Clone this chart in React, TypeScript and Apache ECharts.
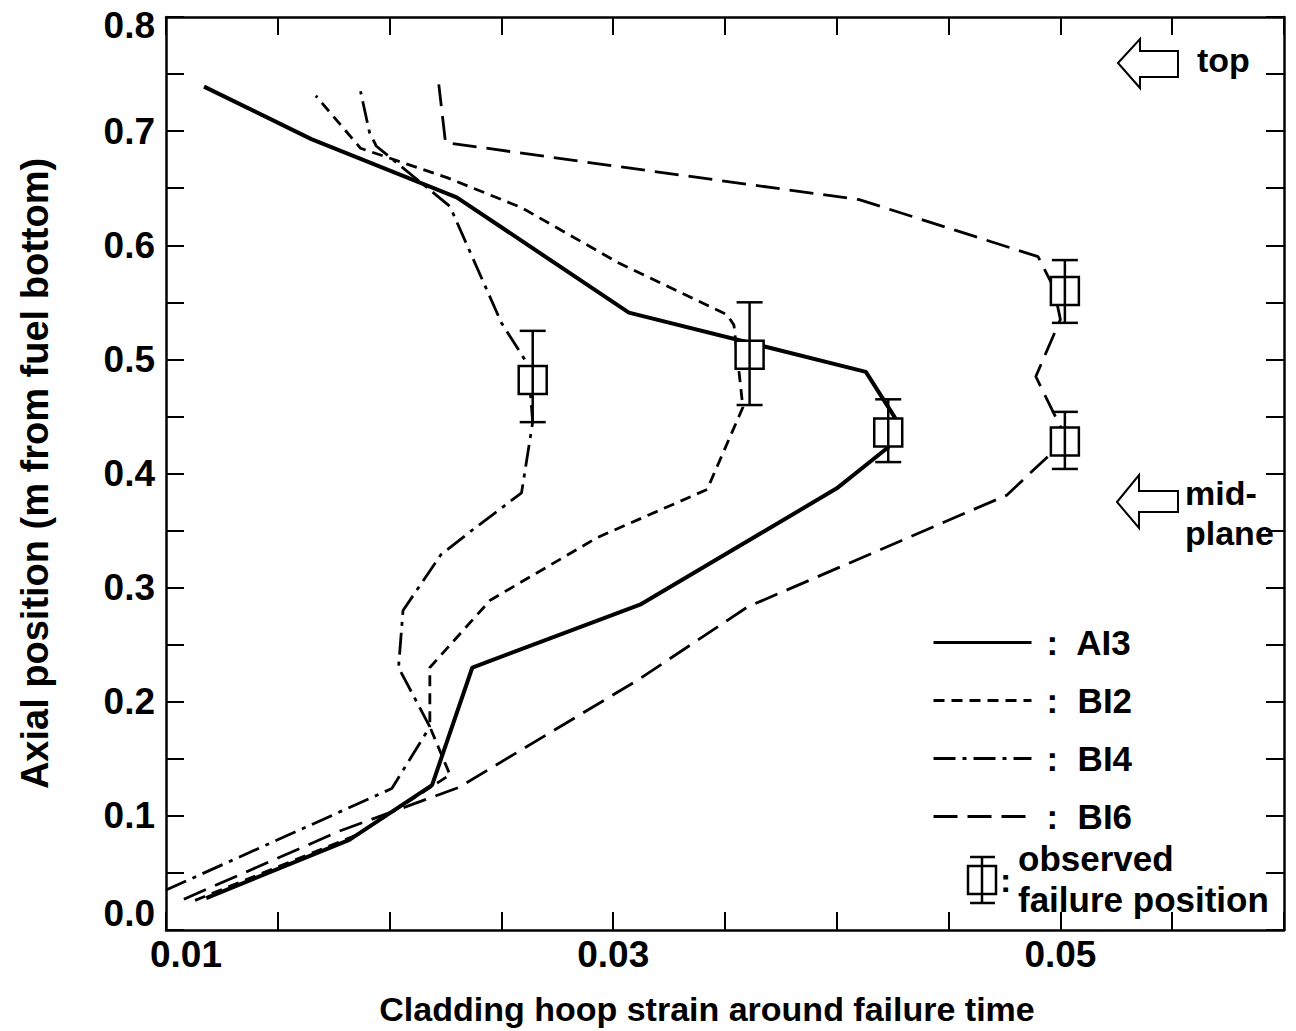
import React, { useEffect, useRef } from "react";
import * as echarts from "echarts";

// ---- data ----
const xTickLabels = ["0.01", "0.03", "0.05"];
const yTickLabels = ["0.0", "0.1", "0.2", "0.3", "0.4", "0.5", "0.6", "0.7", "0.8"];

const ai3Strain = [0.0118, 0.0182, 0.0219, 0.0237, 0.0312, 0.04, 0.0423, 0.0426, 0.0413, 0.0307, 0.023, 0.0165, 0.0117];
const ai3Position = [0.028, 0.079, 0.127, 0.23, 0.285, 0.387, 0.423, 0.449, 0.489, 0.541, 0.642, 0.693, 0.739];

const bi2Strain = [0.0113, 0.0185, 0.0227, 0.0218, 0.0218, 0.0245, 0.0293, 0.0342, 0.0358, 0.0354, 0.0351, 0.0302, 0.0259, 0.0226, 0.0187, 0.0167];
const bi2Position = [0.026, 0.083, 0.136, 0.178, 0.23, 0.289, 0.344, 0.386, 0.458, 0.53, 0.539, 0.585, 0.633, 0.659, 0.685, 0.731];

const bi4Strain = [0.01, 0.0201, 0.0218, 0.0204, 0.0206, 0.0223, 0.0238, 0.0259, 0.0264, 0.0262, 0.025, 0.0227, 0.0194, 0.0191, 0.0187];
const bi4Position = [0.035, 0.124, 0.178, 0.23, 0.28, 0.329, 0.352, 0.383, 0.445, 0.495, 0.532, 0.634, 0.687, 0.699, 0.735];

const bi6Strain = [0.0108, 0.0178, 0.0231, 0.0311, 0.036, 0.0476, 0.0495, 0.05, 0.0489, 0.05, 0.0497, 0.049, 0.041, 0.0302, 0.0225, 0.0222];
const bi6Position = [0.027, 0.087, 0.125, 0.219, 0.283, 0.381, 0.416, 0.441, 0.485, 0.535, 0.563, 0.59, 0.64, 0.669, 0.69, 0.741];

const failStrain = [0.0264, 0.0361, 0.0423, 0.0502, 0.0502];
const failPosition = [0.482, 0.504, 0.436, 0.56, 0.428];
const failLow = [0.445, 0.46, 0.41, 0.532, 0.404];
const failHigh = [0.525, 0.55, 0.465, 0.587, 0.454];

const seriesNames = ["AI3", "BI2", "BI4", "BI6"];

const FONT = "'Liberation Sans', Arial, Helvetica, sans-serif";
const X_MIN = 0.01;
const X_MAX = 0.06;
const X_STEP = 0.005;
const Y_MIN = 0;
const Y_MAX = 0.8;
const Y_STEP = 0.05;

const zip = (xs: number[], ys: number[]) => xs.map((x, i) => [x, ys[i]]);

function buildOption(): any {
  const axisLine = { show: true, onZero: false, lineStyle: { color: "#000", width: 2.5 } };
  const axisTick = { show: true, inside: true, length: 18, lineStyle: { color: "#000", width: 2 } };
  const labelStyle = { color: "#000", fontSize: 37, fontWeight: "bold", fontFamily: FONT };

  const xFormatter = (v: number) => {
    const idx = Math.round((v - X_MIN) / X_STEP);
    if (idx % 4 !== 0) return "";
    const lab = xTickLabels[idx / 4];
    if (lab === undefined) return "";
    return idx === 0 ? `{first|${lab}}` : lab;
  };
  const yFormatter = (v: number) => {
    const idx = Math.round((v - Y_MIN) / Y_STEP);
    if (idx % 2 !== 0) return "";
    const lab = yTickLabels[idx / 2];
    if (lab === undefined) return "";
    if (idx === 0) return `{zero|${lab}}`;
    if (idx / 2 === yTickLabels.length - 1) return `{top|${lab}}`;
    return lab;
  };

  const lineSeries = (name: string, xs: number[], ys: number[], type: any, width: number) => ({
    name,
    type: "line",
    data: zip(xs, ys),
    symbol: "none",
    showSymbol: false,
    silent: true,
    lineStyle: { color: "#000", width, type },
    itemStyle: { color: "#000" },
    z: 2,
  });

  const failData = failStrain.map((x, i) => [x, failPosition[i], failLow[i], failHigh[i]]);

  const textCommon = { fill: "#000", fontFamily: FONT, fontWeight: "bold" };

  return {
    animation: false,
    backgroundColor: "#fff",
    grid: { left: 166, right: 12, top: 17, bottom: 101, containLabel: false },
    xAxis: [
      {
        type: "value",
        min: X_MIN,
        max: X_MAX,
        interval: X_STEP,
        position: "bottom",
        axisLine,
        axisTick,
        splitLine: { show: false },
        axisLabel: {
          ...labelStyle,
          margin: 6,
          formatter: xFormatter,
          rich: { first: { ...labelStyle, padding: [0, 0, 0, 40] } },
        },
        name: "Cladding hoop strain around failure time",
        nameLocation: "middle",
        nameGap: 62,
        nameTextStyle: { color: "#000", fontSize: 34, fontWeight: "bold", fontFamily: FONT, padding: [0, 36, 0, 0] },
      },
      {
        type: "value",
        min: X_MIN,
        max: X_MAX,
        interval: X_STEP,
        position: "top",
        axisLine,
        axisTick,
        splitLine: { show: false },
        axisLabel: { show: false },
      },
    ],
    yAxis: [
      {
        type: "value",
        min: Y_MIN,
        max: Y_MAX,
        interval: Y_STEP,
        position: "left",
        axisLine,
        axisTick,
        splitLine: { show: false },
        axisLabel: {
          ...labelStyle,
          margin: 11,
          formatter: yFormatter,
          rich: {
            zero: { ...labelStyle, padding: [0, 0, 34, 0] },
            top: { ...labelStyle, padding: [16, 0, 0, 0] },
          },
        },
        name: "Axial position (m from fuel bottom)",
        nameLocation: "middle",
        nameGap: 112,
        nameTextStyle: { color: "#000", fontSize: 38, fontWeight: "bold", fontFamily: FONT, padding: [0, 0, 0, 0] },
      },
      {
        type: "value",
        min: Y_MIN,
        max: Y_MAX,
        interval: Y_STEP,
        position: "right",
        axisLine,
        axisTick,
        splitLine: { show: false },
        axisLabel: { show: false },
      },
    ],
    legend: {
      data: seriesNames,
      orient: "vertical",
      left: 927,
      top: 620,
      itemWidth: 98,
      itemHeight: 20,
      itemGap: 23,
      selectedMode: false,
      formatter: ":  {name}",
      itemStyle: { opacity: 0, color: "rgba(0,0,0,0)", borderWidth: 0 },
      lineStyle: { width: 3 },
      textStyle: { color: "#000", fontSize: 35, fontWeight: "bold", fontFamily: FONT, lineHeight: 32, padding: [0, 0, 0, 10] },
    },
    series: [
      lineSeries("AI3", ai3Strain, ai3Position, "solid", 4),
      lineSeries("BI2", bi2Strain, bi2Position, [11, 7], 2.8),
      lineSeries("BI4", bi4Strain, bi4Position, [22, 7, 4, 7], 2.8),
      lineSeries("BI6", bi6Strain, bi6Position, [24, 10], 2.8),
      {
        name: "observed failure position",
        type: "custom",
        data: failData,
        encode: { x: 0, y: 1 },
        silent: true,
        z: 5,
        renderItem: (_params: any, api: any) => {
          const x = api.value(0);
          const c = api.coord([x, api.value(1)]);
          const lo = api.coord([x, api.value(2)]);
          const hi = api.coord([x, api.value(3)]);
          const half = 14;
          const cap = 13;
          const st = { stroke: "#000", lineWidth: 2.5 };
          return {
            type: "group",
            children: [
              { type: "rect", shape: { x: c[0] - half, y: c[1] - half, width: half * 2, height: half * 2 }, style: { fill: "#fff", ...st } },
              { type: "line", shape: { x1: c[0], y1: hi[1], x2: c[0], y2: lo[1] }, style: st },
              { type: "line", shape: { x1: c[0] - cap, y1: hi[1], x2: c[0] + cap, y2: hi[1] }, style: st },
              { type: "line", shape: { x1: c[0] - cap, y1: lo[1], x2: c[0] + cap, y2: lo[1] }, style: st },
            ],
          };
        },
      },
    ],
    graphic: [
      // "top" arrow
      {
        type: "polygon",
        shape: { points: [[1118, 63], [1140, 39], [1140, 51], [1178, 51], [1178, 77], [1140, 77], [1140, 88]] },
        style: { fill: "#fff", stroke: "#000", lineWidth: 2 },
        z: 10,
      },
      { type: "text", x: 1197, y: 60, style: { ...textCommon, text: "top", fontSize: 34, verticalAlign: "middle" }, z: 10 },
      // "mid-plane" arrow
      {
        type: "polygon",
        shape: { points: [[1117, 502], [1139, 475], [1139, 491], [1178, 491], [1178, 512], [1139, 512], [1139, 528]] },
        style: { fill: "#fff", stroke: "#000", lineWidth: 2 },
        z: 10,
      },
      { type: "text", x: 1185, y: 493, style: { ...textCommon, text: "mid-", fontSize: 34, verticalAlign: "middle" }, z: 10 },
      { type: "text", x: 1185, y: 533, style: { ...textCommon, text: "plane", fontSize: 34, verticalAlign: "middle" }, z: 10 },
      // observed failure position legend entry
      {
        type: "group",
        z: 10,
        children: [
          { type: "rect", shape: { x: 968, y: 866, width: 28, height: 28 }, style: { fill: "#fff", stroke: "#000", lineWidth: 2.5 } },
          { type: "line", shape: { x1: 982, y1: 857, x2: 982, y2: 903 }, style: { stroke: "#000", lineWidth: 2.5 } },
          { type: "line", shape: { x1: 970, y1: 857, x2: 995, y2: 857 }, style: { stroke: "#000", lineWidth: 2.5 } },
          { type: "line", shape: { x1: 970, y1: 903, x2: 995, y2: 903 }, style: { stroke: "#000", lineWidth: 2.5 } },
          { type: "text", x: 1000, y: 880, style: { ...textCommon, text: ":", fontSize: 34, lineHeight: 28, verticalAlign: "middle" } },
          { type: "text", x: 1018, y: 858, style: { ...textCommon, text: "observed", fontSize: 35, lineHeight: 28, verticalAlign: "middle" } },
          { type: "text", x: 1018, y: 899, style: { ...textCommon, text: "failure position", fontSize: 35, lineHeight: 28, verticalAlign: "middle" } },
        ],
      },
    ],
  };
}

export default function App() {
  const ref = useRef<HTMLDivElement>(null);
  useEffect(() => {
    if (!ref.current) return;
    const chart = echarts.init(ref.current, null, { renderer: "svg" });
    chart.setOption(buildOption());
    return () => chart.dispose();
  }, []);
  return (
    <div
      ref={ref}
      style={{ position: "fixed", left: 0, top: 0, width: 1296, height: 1031, background: "#fff" }}
    />
  );
}
